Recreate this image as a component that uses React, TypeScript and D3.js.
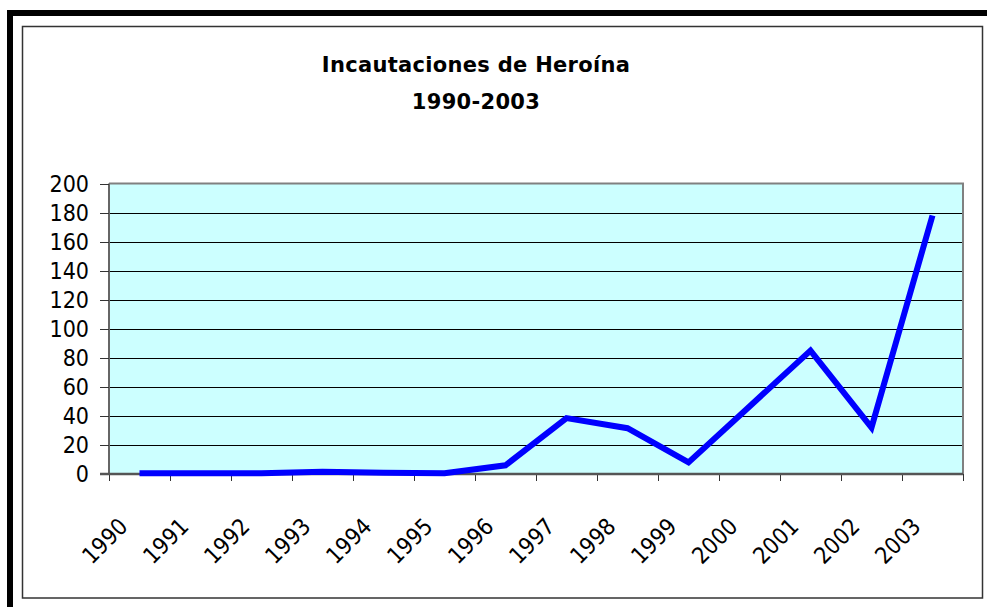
import React, { useRef, useEffect } from "react";
import * as d3 from "d3";

const years = [
  "1990", "1991", "1992", "1993", "1994", "1995", "1996",
  "1997", "1998", "1999", "2000", "2001", "2002", "2003",
];
const seizures = [0.5, 0.5, 0.5, 1.5, 0.8, 0.5, 6, 38.5, 31.5, 8, 46.5, 85, 32, 178];
const yTicks = [0, 20, 40, 60, 80, 100, 120, 140, 160, 180, 200];
const titleLines = ["Incautaciones de Heroína", "1990-2003"];

const App: React.FC = () => {
  const chartRef = useRef<SVGSVGElement | null>(null);

  useEffect(() => {
    if (!chartRef.current) return;
    const svg = d3.select(chartRef.current);
    svg.selectAll("*").remove();

    const width = 987;
    const height = 607;
    const plot = { left: 109, right: 963, top: 183.5, bottom: 474 };
    const labelFont = "'DejaVu Sans Condensed', 'DejaVu Sans', sans-serif";
    const titleFont = "'DejaVu Sans', Verdana, sans-serif";

    svg.attr("width", width).attr("height", height);

    // outer frame (thick black on top and left) + inner thin frame
    svg.append("rect").attr("width", width).attr("height", height).attr("fill", "#fff");
    svg.append("rect").attr("x", 7).attr("y", 10).attr("width", width - 7).attr("height", 6).attr("fill", "#000");
    svg.append("rect").attr("x", 7).attr("y", 10).attr("width", 6).attr("height", height - 10).attr("fill", "#000");
    svg
      .append("rect")
      .attr("x", 22.5)
      .attr("y", 26.5)
      .attr("width", 960)
      .attr("height", 571.5)
      .attr("fill", "none")
      .attr("stroke", "#333")
      .attr("stroke-width", 1.5);

    const x = d3
      .scaleBand()
      .domain(years)
      .range([plot.left, plot.right]);

    const y = d3
      .scaleLinear()
      .domain([0, 200])
      .range([plot.bottom, plot.top]);

    // plot area
    svg
      .append("rect")
      .attr("x", plot.left)
      .attr("y", plot.top)
      .attr("width", plot.right - plot.left)
      .attr("height", plot.bottom - plot.top)
      .attr("fill", "#CCFFFF");

    // gridlines
    svg
      .append("g")
      .selectAll("line")
      .data(yTicks.filter((t) => t > 0 && t < 200))
      .join("line")
      .attr("x1", plot.left)
      .attr("x2", plot.right)
      .attr("y1", (d) => Math.round(y(d)) + 0.5)
      .attr("y2", (d) => Math.round(y(d)) + 0.5)
      .attr("stroke", "#000")
      .attr("stroke-width", 1);

    // plot border top / right
    svg
      .append("path")
      .attr("d", `M${plot.left},${plot.top}H${plot.right}V${plot.bottom}`)
      .attr("fill", "none")
      .attr("stroke", "#808080")
      .attr("stroke-width", 2);

    // y axis
    const yAxis = svg.append("g");
    yAxis
      .append("line")
      .attr("x1", plot.left)
      .attr("x2", plot.left)
      .attr("y1", plot.top)
      .attr("y2", plot.bottom)
      .attr("stroke", "#666")
      .attr("stroke-width", 2);
    yAxis
      .selectAll("line.tick")
      .data(yTicks)
      .join("line")
      .attr("class", "tick")
      .attr("x1", plot.left - 9)
      .attr("x2", plot.left)
      .attr("y1", (d) => Math.round(y(d)) + 0.5)
      .attr("y2", (d) => Math.round(y(d)) + 0.5)
      .attr("stroke", "#333")
      .attr("stroke-width", 1);
    yAxis
      .selectAll("text")
      .data(yTicks)
      .join("text")
      .attr("x", 89)
      .attr("y", (d) => y(d) + 8.3)
      .attr("text-anchor", "end")
      .style("font-family", labelFont)
      .style("font-size", "23px")
      .attr("fill", "#000")
      .text((d) => String(d));

    // x axis
    const xAxis = svg.append("g");
    xAxis
      .selectAll("line.tick")
      .data([...years.map((d) => x(d)!), plot.right])
      .join("line")
      .attr("class", "tick")
      .attr("x1", (d) => Math.round(d) + 0.5)
      .attr("x2", (d) => Math.round(d) + 0.5)
      .attr("y1", plot.bottom)
      .attr("y2", plot.bottom + 7)
      .attr("stroke", "#333")
      .attr("stroke-width", 1);
    xAxis
      .append("line")
      .attr("x1", plot.left - 9)
      .attr("x2", plot.right)
      .attr("y1", plot.bottom)
      .attr("y2", plot.bottom)
      .attr("stroke", "#555")
      .attr("stroke-width", 2.5);
    xAxis
      .selectAll("text")
      .data(years)
      .join("text")
      .attr("transform", (d) => `translate(${x(d)! + x.bandwidth() / 2 - 10.5},${plot.bottom + 54}) rotate(-45)`)
      .attr("text-anchor", "end")
      .style("font-family", labelFont)
      .style("font-size", "23px")
      .attr("fill", "#000")
      .text((d) => d);

    // series line
    const line = d3
      .line<number>()
      .x((_, i) => x(years[i])! + x.bandwidth() / 2)
      .y((d) => y(d));
    svg
      .append("path")
      .datum(seizures)
      .attr("d", line)
      .attr("fill", "none")
      .attr("stroke", "#0000FF")
      .attr("stroke-width", 6)
      .attr("stroke-linejoin", "miter");

    // title
    svg
      .append("text")
      .attr("x", 476)
      .attr("text-anchor", "middle")
      .style("font-family", titleFont)
      .style("font-weight", "bold")
      .style("font-size", "21px")
      .style("letter-spacing", "0.3px")
      .attr("fill", "#000")
      .selectAll("tspan")
      .data(titleLines)
      .join("tspan")
      .attr("x", 476)
      .attr("y", (_, i) => (i === 0 ? 72 : 109))
      .text((d) => d);
  }, []);

  return (
    <svg
      ref={chartRef}
      style={{ position: "absolute", left: 0, top: 0, display: "block" }}
    ></svg>
  );
};

export default App;
